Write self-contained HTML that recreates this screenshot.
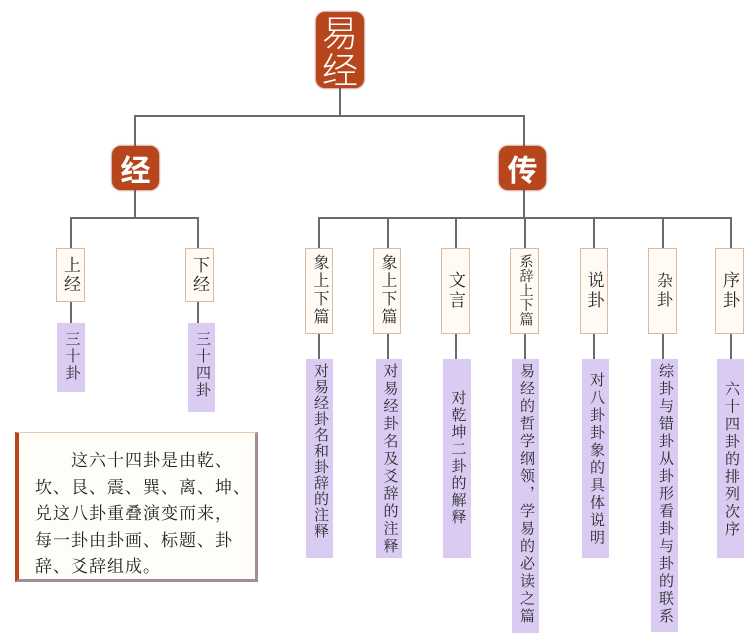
<!DOCTYPE html>
<html><head><meta charset="utf-8"><style>
body{margin:0;width:756px;height:644px;background:#fff;position:relative;overflow:hidden;font-family:"Liberation Serif","Noto Serif CJK SC",serif}
.a{position:absolute}
.l{position:absolute;background:#6a6a6a}
.red{position:absolute;background:#b8461c;border-radius:9px;color:#fff;text-align:center;box-shadow:0 0 2px #8a3010}
.box{position:absolute;background:#fffaf3;border:1px solid #d9b9a2;box-sizing:border-box;display:flex;align-items:center;justify-content:center;color:#222}
.v{writing-mode:vertical-rl;text-orientation:upright;line-height:1}
.pu{position:absolute;background:#d9cbf2;display:flex;justify-content:center;color:#2a2a2a;box-sizing:border-box}
.tb div{white-space:nowrap}
</style></head><body>
<div class="l" style="left:339px;top:88px;width:2px;height:28px"></div>
<div class="l" style="left:134px;top:115px;width:391px;height:2px"></div>
<div class="l" style="left:134px;top:115px;width:2px;height:33px"></div>
<div class="l" style="left:523px;top:115px;width:2px;height:33px"></div>
<div class="l" style="left:134px;top:190px;width:2px;height:28px"></div>
<div class="l" style="left:70px;top:217px;width:128px;height:2px"></div>
<div class="l" style="left:70px;top:217px;width:2px;height:106px"></div>
<div class="l" style="left:197px;top:217px;width:2px;height:106px"></div>
<div class="l" style="left:523px;top:190px;width:2px;height:28px"></div>
<div class="l" style="left:318px;top:217px;width:413px;height:2px"></div>
<div class="l" style="left:318px;top:217px;width:2px;height:142px"></div>
<div class="l" style="left:387px;top:217px;width:2px;height:142px"></div>
<div class="l" style="left:455px;top:217px;width:2px;height:142px"></div>
<div class="l" style="left:524px;top:217px;width:2px;height:142px"></div>
<div class="l" style="left:593px;top:217px;width:2px;height:142px"></div>
<div class="l" style="left:662px;top:217px;width:2px;height:142px"></div>
<div class="l" style="left:730px;top:217px;width:2px;height:142px"></div>

<div class="red" style="left:316px;top:12px;width:48px;height:76px;font-size:36px;line-height:37px;padding-top:1px;box-sizing:border-box;font-family:'Noto Sans CJK SC',sans-serif;font-weight:300">易<br>经</div>
<div class="red" style="left:112px;top:146px;width:47px;height:44px;font-size:30px;line-height:44px;font-family:'Noto Sans CJK SC',sans-serif;font-weight:700">经</div>
<div class="red" style="left:499px;top:146px;width:47px;height:44px;font-size:30px;line-height:44px;font-family:'Noto Sans CJK SC',sans-serif;font-weight:700">传</div>

<div class="box" style="left:56px;top:248px;width:29px;height:54px"><span class="v" style="font-size:17px;letter-spacing:2px">上经</span></div>
<div class="box" style="left:185px;top:248px;width:29px;height:54px"><span class="v" style="font-size:17px;letter-spacing:2px">下经</span></div>
<div class="pu" style="left:57px;top:323px;width:28px;height:69px;padding-top:8px"><span class="v" style="font-size:15px;letter-spacing:2px">三十卦</span></div>
<div class="pu" style="left:188px;top:323px;width:27px;height:89px;padding-top:8px"><span class="v" style="font-size:15px;letter-spacing:2px">三十四卦</span></div>

<div class="box" style="left:305px;top:248px;width:28px;height:86px;align-items:flex-start;padding-top:5px"><span class="v" style="font-size:16px;letter-spacing:2px">象上下篇</span></div>
<div class="box" style="left:373px;top:248px;width:28px;height:86px;align-items:flex-start;padding-top:5px"><span class="v" style="font-size:16px;letter-spacing:2px">象上下篇</span></div>
<div class="box" style="left:441px;top:248px;width:29px;height:86px"><span class="v" style="font-size:17px;letter-spacing:3px">文言</span></div>
<div class="box" style="left:510px;top:248px;width:29px;height:86px;align-items:flex-start;padding-top:5px"><span class="v" style="font-size:14px;letter-spacing:0.5px">系辞上下篇</span></div>
<div class="box" style="left:580px;top:248px;width:28px;height:86px"><span class="v" style="font-size:17px;letter-spacing:3px">说卦</span></div>
<div class="box" style="left:648px;top:248px;width:29px;height:86px"><span class="v" style="font-size:16px;letter-spacing:3px">杂卦</span></div>
<div class="box" style="left:715px;top:248px;width:29px;height:86px"><span class="v" style="font-size:17px;letter-spacing:3px">序卦</span></div>

<div class="pu" style="left:306px;top:359px;width:27px;height:199px;padding-top:4px"><span class="v" style="font-size:15px;letter-spacing:1px">对易经卦名和卦辞的注释</span></div>
<div class="pu" style="left:376px;top:359px;width:26px;height:199px;padding-top:4px"><span class="v" style="font-size:15px;letter-spacing:2.5px">对易经卦名及爻辞的注释</span></div>
<div class="pu" style="left:443px;top:359px;width:28px;height:199px;padding-top:31px"><span class="v" style="font-size:15px;letter-spacing:2px">对乾坤二卦的解释</span></div>
<div class="pu" style="left:512px;top:359px;width:27px;height:274px;padding-top:4px"><span class="v" style="font-size:15px;letter-spacing:2.5px">易经的哲学纲领，学易的必读之篇</span></div>
<div class="pu" style="left:582px;top:359px;width:27px;height:199px;padding-top:13px"><span class="v" style="font-size:15px;letter-spacing:2.5px">对八卦卦象的具体说明</span></div>
<div class="pu" style="left:651px;top:359px;width:27px;height:273px;padding-top:4px"><span class="v" style="font-size:15px;letter-spacing:2.5px">综卦与错卦从卦形看卦与卦的联系</span></div>
<div class="pu" style="left:717px;top:359px;width:27px;height:199px;padding-top:22px"><span class="v" style="font-size:15px;letter-spacing:2.5px">六十四卦的排列次序</span></div>

<div class="a tb" style="left:15px;top:432px;width:243px;height:150px;box-sizing:border-box;background:#fffdf8;border-left:4px solid #b8461c;border-top:1px solid #e3c9b2;border-right:3px solid #a48c98;border-bottom:3px solid #a48c98;padding:15px 0 0 16px;font-size:17px;line-height:26.5px;color:#222;letter-spacing:1px">
<div style="padding-left:36px">这六十四卦是由乾、</div>
<div>坎、艮、震、巽、离、坤、</div>
<div>兑这八卦重叠演变而来，</div>
<div>每一卦由卦画、标题、卦</div>
<div>辞、爻辞组成。</div>
</div>
</body></html>
